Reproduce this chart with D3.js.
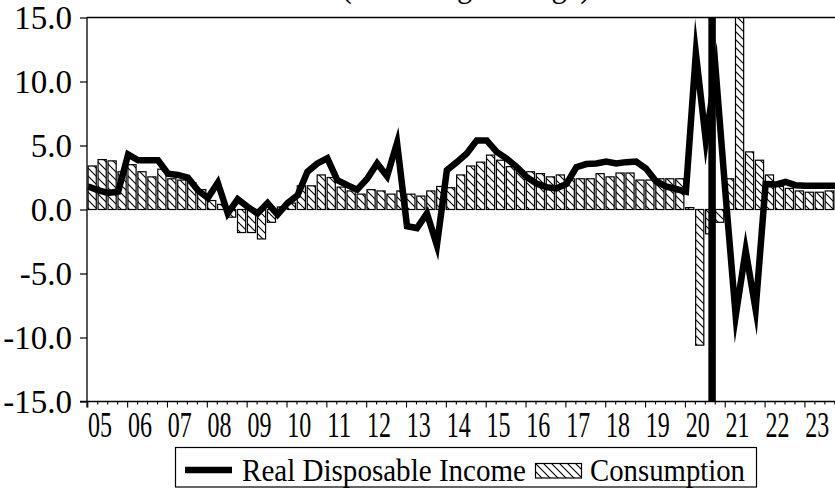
<!DOCTYPE html>
<html><head><meta charset="utf-8">
<script src="https://cdn.jsdelivr.net/npm/d3@7"></script>
<style>
html,body{margin:0;padding:0;background:#fff;}
svg{display:block;}
text{font-family:"Liberation Serif","Times New Roman",serif;fill:#000;}
</style>
</head><body>
<svg id="c" width="835" height="489"></svg>
<script>
// ---- data ----
const yearLabels = ["05","06","07","08","09","10","11","12","13","14","15","16","17","18","19","20","21","22","23"];
const quarterNames = ["Q1","Q2","Q3","Q4"];
const quarters = yearLabels.flatMap(yy => quarterNames.map(q => "20" + yy + q));

// Real Disposable Income, % change from a year earlier (line)
const income = [
  1.8, 1.5, 1.3, 1.4,   4.3, 3.85, 3.85, 3.85,  2.8, 2.7, 2.5, 1.5,
  0.9, 2.1, -0.3, 0.8,  0.2, -0.3, 0.5, -0.4,   0.5, 1.1, 2.95, 3.6,
  4.0, 2.3, 1.9, 1.55,  2.4, 3.6, 2.6, 5.2,     -1.3, -1.45, -0.3, -2.8,
  3.07, 3.7, 4.37, 5.4, 5.4, 4.5, 3.98, 3.33,   2.55, 2.03, 1.75, 1.65,
  2.0, 3.3, 3.55, 3.6,  3.75, 3.6, 3.7, 3.75,   3.2, 2.2, 1.8, 1.6,
  1.4, 12.2, 5.4, 10.8, 1.0, -8.3, -3.2, -7.8,  2.0, 1.95, 2.15, 1.9,
  1.85, 1.85, 1.85, 1.85
];
// Consumption, % change from a year earlier (bars)
const consumption = [
  3.4, 3.9, 3.8, 2.95,  3.5, 2.95, 2.55, 3.15,  2.4, 2.3, 2.1, 1.55,
  0.7, 0.4, -0.6, -1.8, -1.8, -2.3, -1.0, 0.2,  0.5, 1.85, 1.85, 2.7,
  2.5, 1.75, 1.45, 1.2, 1.55, 1.45, 1.2, 1.45,  1.2, 1.05, 1.45, 1.8,
  1.7, 2.7, 3.4, 3.7,   4.25, 3.85, 3.35, 3.05, 2.95, 2.8, 2.55, 2.7,
  2.4, 2.4, 2.4, 2.8,   2.55, 2.85, 2.85, 2.3,  2.3, 2.4, 2.4, 2.4,
  0.15, -10.6, -1.9, -1.0, 2.4, 16.2, 4.5, 3.85, 2.7, 1.8, 1.65, 1.45,
  1.35, 1.35, 1.45, 1.5
];
const yTicks = [-15, -10, -5, 0, 5, 10, 15];
const verticalMarks = [2020.67];   // vertical rule (in years)
const seriesNames = ["Real Disposable Income", "Consumption"];
const titleText = "(Percentage change)";

// ---- chart ----
const W = 835, H = 489;
const svg = d3.select("#c");
svg.append("rect").attr("width", W).attr("height", H).attr("fill", "#fff");

const x = d3.scaleLinear().domain([0, quarters.length]).range([87.8, 87.8 + 9.96 * quarters.length]);
const xYear = t => x((t - 2005) * 4);
const y = d3.scaleLinear().domain([-15, 15]).range([401.5, 17.5]);
const plotL = 87, plotR = W, plotT = y(15), plotB = y(-15);

const defs = svg.append("defs");
const pat = defs.append("pattern").attr("id", "hatch")
  .attr("patternUnits", "userSpaceOnUse").attr("width", 8).attr("height", 8);
pat.append("rect").attr("width", 8).attr("height", 8).attr("fill", "#fff");
pat.append("path").attr("d", "M0,0L8,8M-1,7L1,9M7,-1L9,1")
  .attr("stroke", "#000").attr("stroke-width", 1.1);
defs.append("clipPath").attr("id", "clip").append("rect")
  .attr("x", plotL).attr("y", plotT).attr("width", plotR - plotL).attr("height", plotB - plotT);

const plot = svg.append("g").attr("clip-path", "url(#clip)");

// bars
plot.selectAll("rect.bar").data(consumption).join("rect").attr("class", "bar")
  .attr("x", (d, i) => x(i) + 0.3)
  .attr("width", x(1) - x(0) - 1.8)
  .attr("y", d => Math.min(y(d), y(0)))
  .attr("height", d => Math.abs(y(d) - y(0)))
  .attr("fill", "url(#hatch)").attr("stroke", "#000").attr("stroke-width", 1.2);

// line
plot.append("path").datum(income)
  .attr("d", d3.line().x((d, i) => x(i) + 0.5).y(d => y(d)))
  .attr("fill", "none").attr("stroke", "#000").attr("stroke-width", 6.5)
  .attr("stroke-linejoin", "miter").attr("stroke-miterlimit", 20);

// vertical rule
plot.selectAll("line.vm").data(verticalMarks).join("line").attr("class", "vm")
  .attr("x1", d => xYear(d)).attr("x2", d => xYear(d))
  .attr("y1", plotT).attr("y2", plotB)
  .attr("stroke", "#000").attr("stroke-width", 7.5);

// top frame
svg.append("line").attr("x1", plotL).attr("x2", plotR).attr("y1", plotT).attr("y2", plotT)
  .attr("stroke", "#000").attr("stroke-width", 1.3);

// y axis
const fmt = d3.formatLocale({decimal: ".", thousands: ",", grouping: [3], currency: ["", ""], minus: "-"}).format(".1f");
const yAxis = svg.append("g").attr("transform", `translate(${plotL},0)`)
  .call(d3.axisLeft(y).tickValues(yTicks).tickSize(7).tickSizeOuter(0).tickPadding(8).tickFormat(fmt));
yAxis.select(".domain").remove();
yAxis.selectAll(".tick line").attr("stroke", "#000").attr("stroke-width", 1.2);
yAxis.selectAll(".tick text").attr("font-size", 33).attr("font-family", "Liberation Serif").attr("fill", "#000");
svg.append("line").attr("x1", plotL).attr("x2", plotL).attr("y1", plotT).attr("y2", plotB + 6)
  .attr("stroke", "#000").attr("stroke-width", 1.3);

// x axis
svg.append("line").attr("x1", plotL - 7).attr("x2", plotR).attr("y1", plotB).attr("y2", plotB)
  .attr("stroke", "#000").attr("stroke-width", 1.3);
const qIdx = d3.range(quarters.length + 1);
svg.selectAll("line.xt").data(qIdx).join("line").attr("class", "xt")
  .attr("x1", d => x(d)).attr("x2", d => x(d))
  .attr("y1", plotB).attr("y2", d => plotB + (d % 4 === 0 ? 6 : 3))
  .attr("stroke", "#000").attr("stroke-width", 1.1);
svg.selectAll("text.xl").data(yearLabels).join("text").attr("class", "xl")
  .attr("x", (d, i) => x(i * 4) + 0.3).attr("y", 437)
  .attr("font-size", 35).attr("textLength", 24).attr("lengthAdjust", "spacingAndGlyphs")
  .text(d => d);

// title (cut off at top, as in the source)
svg.append("text").attr("x", 466).attr("y", -3).attr("text-anchor", "middle")
  .attr("font-size", 33).attr("textLength", 249).attr("lengthAdjust", "spacingAndGlyphs")
  .text(titleText);

// legend
const lg = svg.append("g");
lg.append("rect").attr("x", 175.5).attr("y", 447.5).attr("width", 581).attr("height", 39.5)
  .attr("fill", "#fff").attr("stroke", "#000").attr("stroke-width", 1.2);
lg.append("line").attr("x1", 185).attr("x2", 232).attr("y1", 470).attr("y2", 470)
  .attr("stroke", "#000").attr("stroke-width", 6.5);
lg.append("text").attr("x", 242).attr("y", 481).attr("font-size", 32)
  .attr("textLength", 284).attr("lengthAdjust", "spacingAndGlyphs").text(seriesNames[0]);
lg.append("rect").attr("x", 535.5).attr("y", 463.5).attr("width", 46).attr("height", 14.5)
  .attr("fill", "url(#hatch)").attr("stroke", "#000").attr("stroke-width", 1.2);
lg.append("text").attr("x", 590).attr("y", 481).attr("font-size", 32)
  .attr("textLength", 155).attr("lengthAdjust", "spacingAndGlyphs").text(seriesNames[1]);
</script>
</body></html>
